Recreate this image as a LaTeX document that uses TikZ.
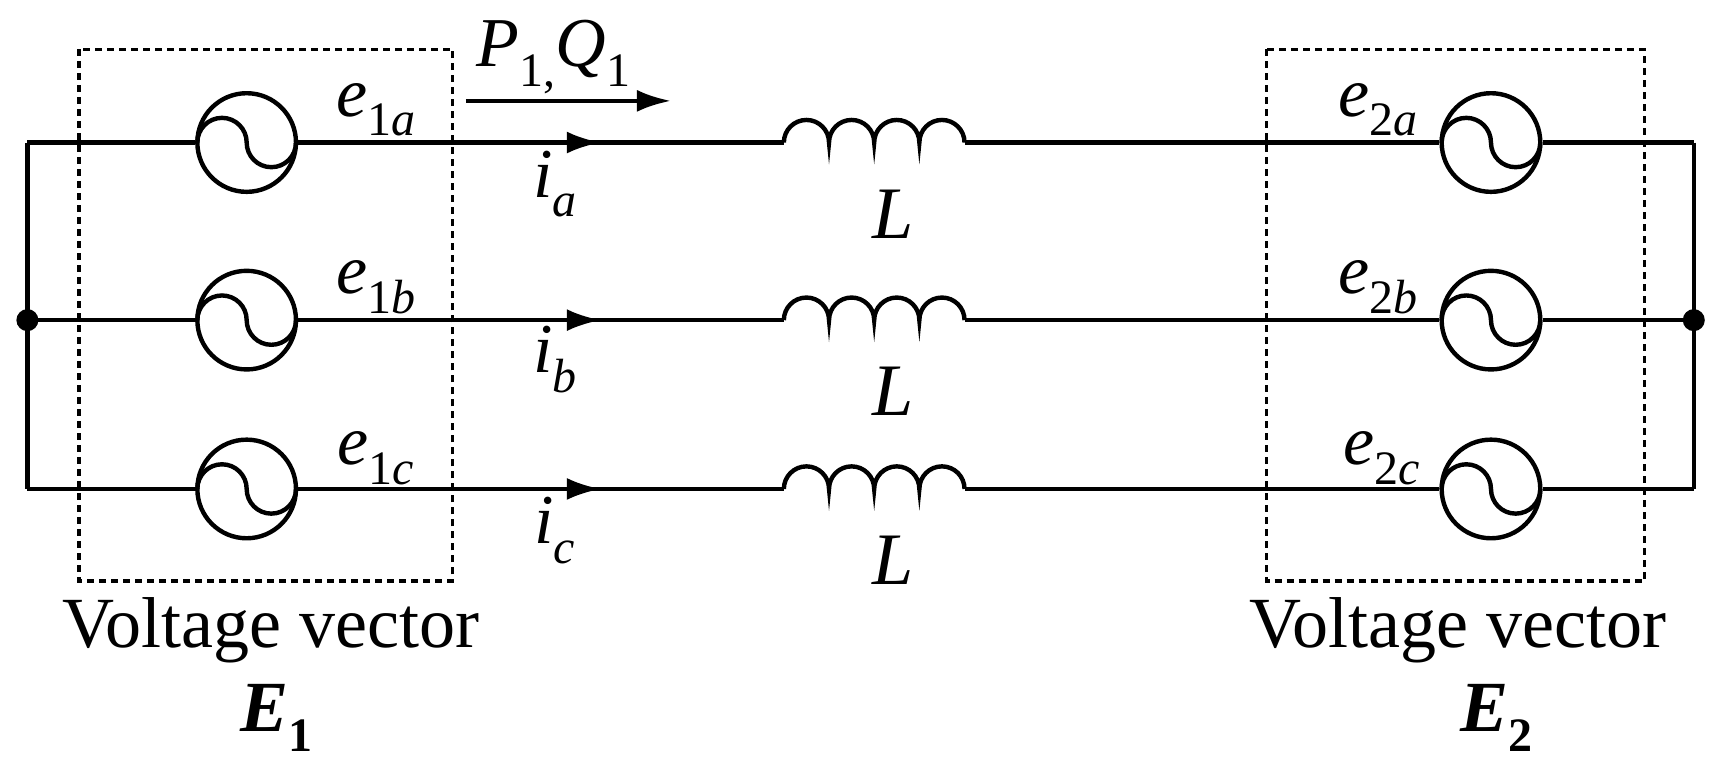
\documentclass[tikz,border=0pt]{standalone}
\usepackage{fontspec}
\setmainfont{Liberation Serif}[ItalicFont={Liberation Serif Italic},BoldItalicFont={Liberation Serif Bold Italic},BoldFont={Liberation Serif Bold}]
\newcommand{\mysub}[2]{{\itshape #1}\raisebox{-0.28em}{\fontsize{48}{52}\selectfont #2}}
\begin{document}
\begin{tikzpicture}[x=1.096pt,y=-1.096pt,line width=4.4pt,
  lbl/.style={inner sep=0pt,font=\fontsize{70}{74}\selectfont},
  big/.style={inner sep=0pt,font=\fontsize{72}{76}\selectfont},
  box/.style={dashed,dash pattern=on 7pt off 5pt,line width=3.4pt},
  arr/.style={-{Latex[length=34pt,width=22pt]}},
  dot/.style={circle,fill,inner sep=0pt,minimum size=22pt}]
\usetikzlibrary{arrows.meta}
\useasboundingbox (0,0) rectangle (1568,698);
% sources
\foreach \y/\n in {130/a,292/b,446/c}{
  \node[circle,draw,minimum size=98.6pt,inner sep=0pt] (L\n) at (225,\y) {};
  \draw (180,\y) arc[start angle=180,end angle=360,radius=22.5] arc[start angle=180,end angle=0,radius=22.5];
  \node[circle,draw,minimum size=98.6pt,inner sep=0pt] (R\n) at (1360,\y) {};
  \draw (1315,\y) arc[start angle=180,end angle=360,radius=22.5] arc[start angle=180,end angle=0,radius=22.5];
  \coordinate (bl\n) at (25,\y);
  \coordinate (br\n) at (1545,\y);
  \coordinate (ia\n) at (715,\y);
  \coordinate (ib\n) at (880,\y);
  \draw (bl\n) -- (L\n.west);
  \draw (L\n.east) -- (ia\n);
  \draw (ia\n) arc[start angle=180,end angle=360,radius=20.6] arc[start angle=180,end angle=360,radius=20.6] arc[start angle=180,end angle=360,radius=20.6] arc[start angle=180,end angle=360,radius=20.6];
  \draw (ib\n) -- (R\n.west);
  \draw (R\n.east) -- (br\n);
  \coordinate (as\n) at (490,\y);
  \coordinate (at\n) at (548,\y);
  \draw[arr] (as\n) -- (at\n);
  \node[big,font=\fontsize{74}{78}\selectfont\itshape] (Lab\n) at (815,\y+65) {L};
}
\draw (bla) -- (blc);
\draw (bra) -- (brc);
\node[dot] (d1) at (25,292) {};
\node[dot] (d2) at (1545,292) {};
% boxes
\draw[box] (72,45) rectangle (413,530);
\draw[box] (1155,45) rectangle (1500,530);
% labels
\node[lbl] (e1a) at (343,100) {\mysub{e}{1\itshape a}};
\node[lbl] (e1b) at (343,262) {\mysub{e}{1\itshape b}};
\node[lbl] (e1c) at (343,418) {\mysub{e}{1\itshape c}};
\node[lbl] (e2a) at (1257,100) {\mysub{e}{2\itshape a}};
\node[lbl] (e2b) at (1257,262) {\mysub{e}{2\itshape b}};
\node[lbl] (e2c) at (1260,418) {\mysub{e}{2\itshape c}};
\node[lbl] (iA) at (506,168) {\mysub{i}{\itshape a}};
\node[lbl] (iB) at (506,328) {\mysub{i}{\itshape b}};
\node[lbl] (iC) at (506,484) {\mysub{i}{\itshape c}};
\node[lbl] (PQ) at (505,52) {\mysub{P}{1,}\mysub{Q}{1}};
\coordinate (pqs) at (425,92);
\coordinate (pqe) at (612,92);
\draw[arr] (pqs) -- (pqe);
\node[big] (v1) at (247,575) {Voltage vector};
\node[big] (v2) at (1330,575) {Voltage vector};
\node[big] (E1) at (252,655) {\bfseries\mysub{E}{\upshape 1}};
\node[big] (E2) at (1365,655) {\bfseries\mysub{E}{\upshape 2}};
\end{tikzpicture}
\end{document}
